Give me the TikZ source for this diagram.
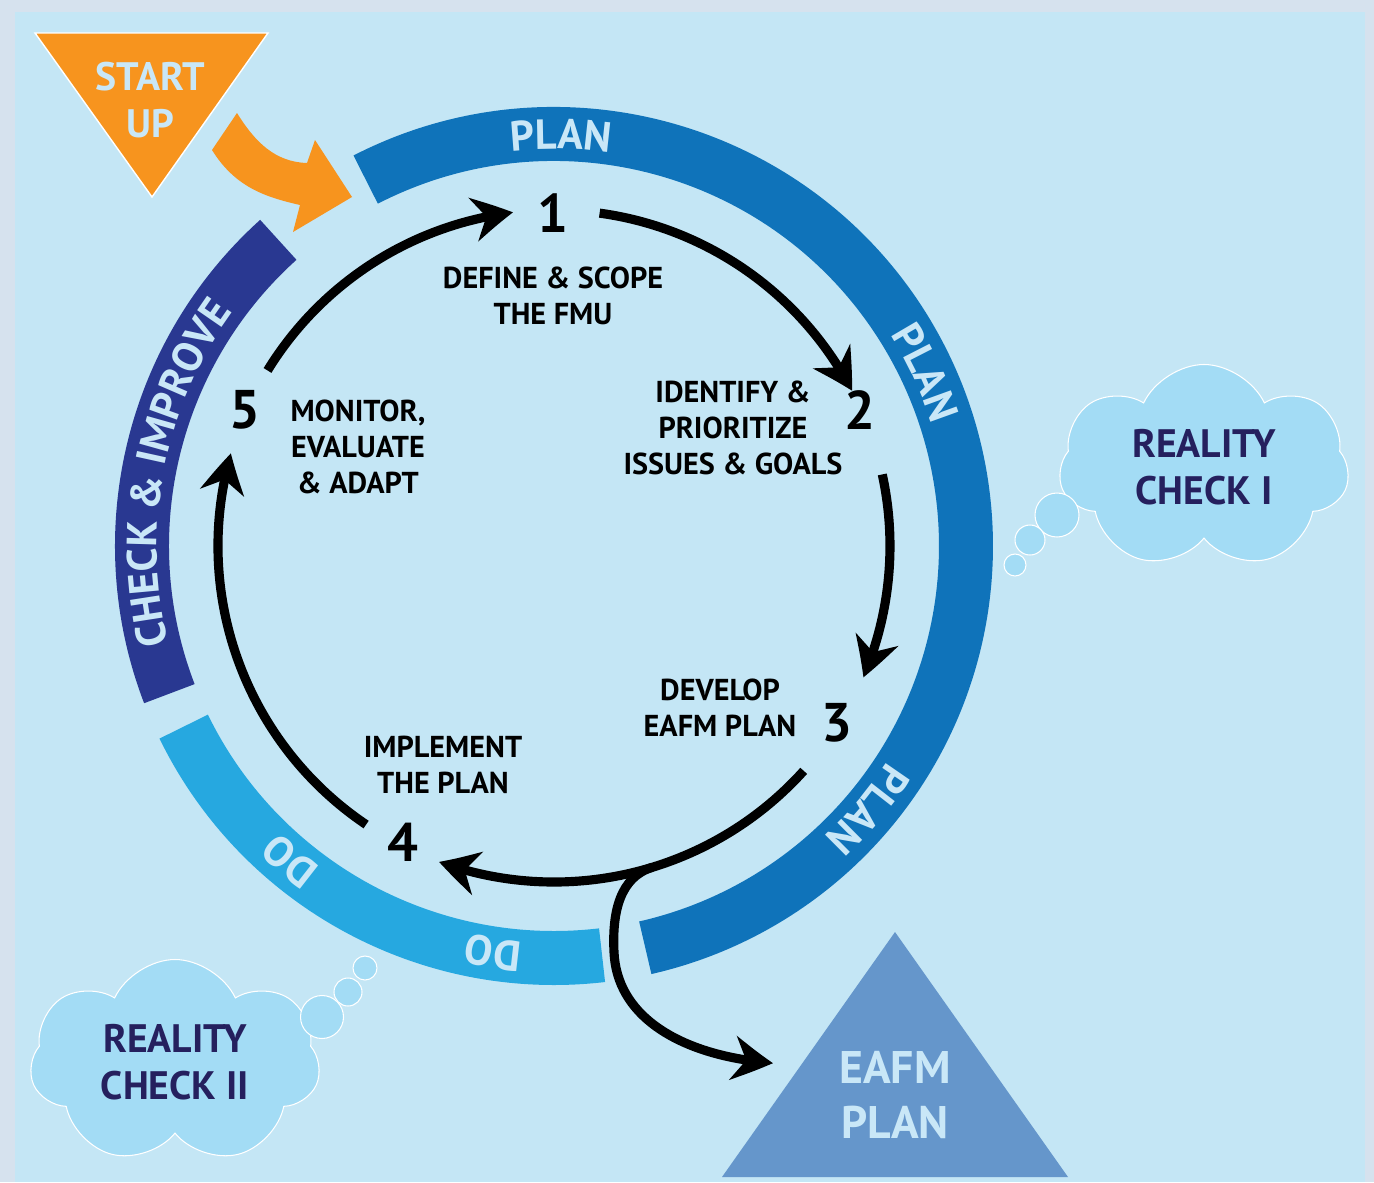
\documentclass[tikz,border=0pt]{standalone}
\usepackage{fontspec}
\setmainfont{PT Sans}
\usepackage{xcolor}
\usetikzlibrary{arrows.meta,bending,shapes.symbols,decorations.text}

\definecolor{framegray}{HTML}{D6E2EE}
\definecolor{panelblue}{HTML}{C4E6F5}
\definecolor{planblue}{HTML}{0F73BA}
\definecolor{checkblue}{HTML}{293891}
\definecolor{doblue}{HTML}{26A8E0}
\definecolor{ringtext}{HTML}{C9E7F7}
\definecolor{startorange}{HTML}{F7941E}
\definecolor{eafmblue}{HTML}{6596CB}
\definecolor{cloudfill}{HTML}{A3DCF5}
\definecolor{cloudtext}{HTML}{25205E}

\newcommand{\ringfont}{\fontsize{12}{14}\selectfont\bfseries}

\begin{document}
\begin{tikzpicture}[
    ring/.style={line width=0.54cm},
    ringlabel/.style={decorate, decoration={text along path, text align=center, text color=ringtext}},
    cyc/.style={line width=2.6pt, -{Stealth[length=0.40cm, width=0.44cm, inset=0.13cm, bend]}},
    steplabel/.style={align=center, font=\fontsize{8.6}{10.2}\selectfont\bfseries},
    stepnum/.style={font=\fontsize{15.5}{18}\selectfont\bfseries},
    thought/.style={cloud, cloud puffs=7, cloud puff arc=130, cloud ignores aspect, fill=cloudfill, draw=white, line width=0.3pt,
        minimum width=2.9cm, minimum height=2.05cm, align=center, text=cloudtext,
        font=\fontsize{11.3}{13.4}\selectfont\bfseries},
    bubble/.style={circle, fill=cloudfill, draw=white, line width=0.3pt, inner sep=0pt}
]
    \useasboundingbox (0,0) rectangle (13.74,11.82);
    % Background panel
    \fill[framegray] (0,0) rectangle (13.74,11.82);
    \fill[panelblue] (0.15,0) rectangle (13.65,11.70);

    % Start up triangle and arrow
    \fill[startorange, draw=white, line width=0.4pt] (0.35,11.49) -- (2.68,11.49) -- (1.52,9.85) -- cycle;
    \node[align=center, text=ringtext, font=\fontsize{11.3}{13.6}\selectfont\bfseries] (startup) at (1.50,10.82) {START\\UP};
    \fill[startorange] (2.12,10.32) -- (2.37,10.69) .. controls (2.55,10.40) and (2.75,10.20) .. (3.07,10.19)
        -- (3.15,10.42) -- (3.52,9.85) -- (2.93,9.50) -- (3.00,9.77)
        .. controls (2.65,9.85) and (2.35,9.95) .. (2.12,10.32) -- cycle;

    % Outer ring
    \begin{scope}[shift={(5.54,6.36)}]
        \coordinate (C) at (0,0);
        \draw[ring, planblue] (117.2:4.12) arc[start angle=117.2, end angle=-77.2, radius=4.12];
        \draw[ring, checkblue] (132:4.12) arc[start angle=132, end angle=201, radius=4.12];
        \draw[ring, doblue] (206:4.12) arc[start angle=206, end angle=276.7, radius=4.12];

        \path[ringlabel, decoration={text={|\ringfont|PLAN}}] (109:3.97) arc[start angle=109, end angle=69, radius=3.97];
        \path[ringlabel, decoration={text={|\ringfont|PLAN}}] (45:3.97) arc[start angle=45, end angle=5, radius=3.97];
        \path[ringlabel, decoration={text={|\ringfont|PLAN}}] (-20:3.97) arc[start angle=-20, end angle=-60, radius=3.97];
        \path[ringlabel, decoration={text={|\ringfont|DO}}] (250:3.97) arc[start angle=250, end angle=210, radius=3.97];
        \path[ringlabel, decoration={text={|\ringfont|DO}}] (275:3.97) arc[start angle=275, end angle=248, radius=3.97];
        \path[ringlabel, decoration={text={|\ringfont|CHECK {\&} IMPROVE}}] (201:3.97) arc[start angle=201, end angle=137, radius=3.97];

        % Cycle arrows
        \coordinate (a51) at (148.5:3.36);
        \coordinate (a12) at (82.2:3.36);
        \coordinate (a23) at (12.3:3.36);
        \coordinate (a34) at (-42:3.36);
        \coordinate (a45) at (236:3.36);
        \coordinate (fork) at (-73:3.36);
        \draw[cyc] (a51) arc[start angle=148.5, end angle=97, radius=3.36];
        \draw[cyc] (a12) arc[start angle=82.2, end angle=27.5, radius=3.36];
        \draw[cyc] (a23) arc[start angle=12.3, end angle=-23, radius=3.36];
        \draw[cyc] (a34) arc[start angle=-42, end angle=-110, radius=3.36];
        \draw[cyc] (a45) arc[start angle=236, end angle=164, radius=3.36];
    \end{scope}

    % Steps
    \node[stepnum] (n1) at (5.53,9.69) {1};
    \node[stepnum] (n2) at (8.60,7.72) {2};
    \node[stepnum] (n3) at (8.37,4.59) {3};
    \node[stepnum] (n4) at (4.03,3.40) {4};
    \node[stepnum] (n5) at (2.45,7.72) {5};
    \node[steplabel] (define) at (5.53,8.86) {DEFINE \& SCOPE\\THE FMU};
    \node[steplabel] (identify) at (7.33,7.54) {IDENTIFY \&\\PRIORITIZE\\ISSUES \& GOALS};
    \node[steplabel] (develop) at (7.20,4.74) {DEVELOP\\EAFM PLAN};
    \node[steplabel] (implement) at (4.43,4.17) {IMPLEMENT\\THE PLAN};
    \node[steplabel] (monitor) at (3.58,7.35) {MONITOR,\\EVALUATE\\\& ADAPT};

    % EAFM plan output
    \fill[eafmblue] (8.95,2.50) -- (7.22,0.05) -- (10.68,0.05) -- cycle;
    \node[align=center, text=ringtext, font=\fontsize{13}{15.4}\selectfont\bfseries] (eafm) at (8.95,0.87) {EAFM\\PLAN};
    \coordinate (eafmin) at (7.73,1.19);
    \draw[cyc] (fork) .. controls (6.20,3.05) and (6.12,2.70) .. (6.14,2.30)
        .. controls (6.17,1.60) and (6.90,1.25) .. (eafmin);

    % Reality checks
    \node[thought] (rc1) at (12.04,7.15) {REALITY\\CHECK I};
    \node[bubble, minimum size=0.44cm] (b11) at (10.57,6.67) {};
    \node[bubble, minimum size=0.30cm] (b12) at (10.30,6.42) {};
    \node[bubble, minimum size=0.22cm] (b13) at (10.15,6.17) {};
    \node[thought] (rc2) at (1.75,1.20) {REALITY\\CHECK II};
    \node[bubble, minimum size=0.43cm] (b21) at (3.22,1.65) {};
    \node[bubble, minimum size=0.28cm] (b22) at (3.48,1.90) {};
    \node[bubble, minimum size=0.24cm] (b23) at (3.65,2.14) {};
\end{tikzpicture}
\end{document}
